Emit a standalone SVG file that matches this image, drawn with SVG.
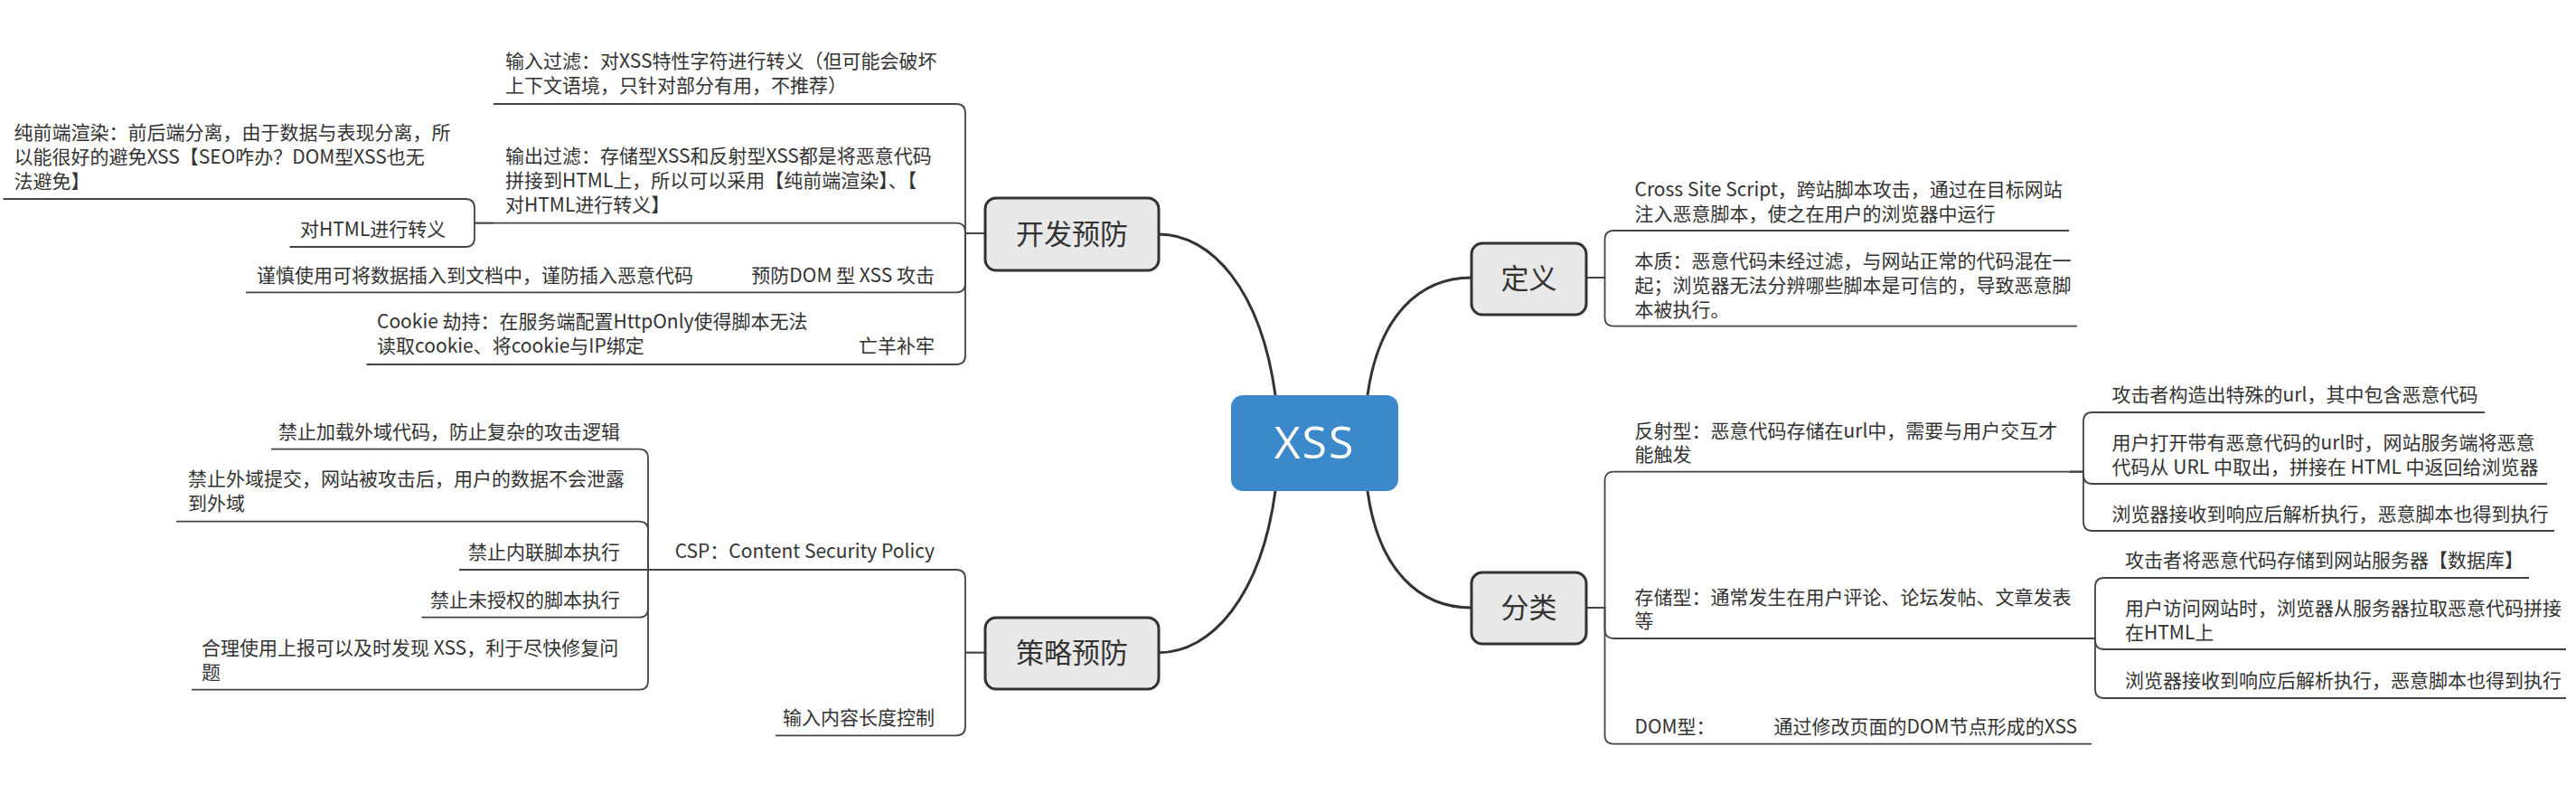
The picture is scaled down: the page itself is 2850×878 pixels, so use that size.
<svg xmlns="http://www.w3.org/2000/svg" width="2850" height="878" viewBox="0 0 2850 878">
<style>
.t{font-family:"Noto Sans CJK SC","Noto Sans",sans-serif;font-size:21px;fill:#333}
.e{text-anchor:end}
.main{fill:none;stroke:#333;stroke-width:3}
.br{fill:none;stroke:#444;stroke-width:1.8}
.box{fill:#e8e8e8;stroke:#333;stroke-width:3}
.bt{font-family:"Noto Sans CJK SC","Noto Sans",sans-serif;font-size:31px;fill:#333;text-anchor:middle}
</style>
<rect width="2850" height="878" fill="#fff"/>
<g id="connectors">
<path class="main" d="M1282,259 C1340,259 1395,320 1411,437"/>
<path class="main" d="M1513,437 C1525,350 1570,307 1628,307"/>
<path class="main" d="M1513,543 C1525,630 1570,672 1628,672"/>
<path class="main" d="M1411,543 C1395,660 1340,721.7 1282,721.7"/>
<!-- 开发预防 -->
<path class="br" d="M1090,258 H1068 V125 Q1068,115 1058,115 H546"/>
<path class="br" d="M1090,258 H1068 V256.7 Q1068,246.7 1058,246.7 H546"/>
<path class="br" d="M1090,258 H1068 V313.3 Q1068,323.3 1058,323.3 H272"/>
<path class="br" d="M1090,258 H1068 V393 Q1068,403 1058,403 H405.5"/>
<path class="br" d="M546,246.7 H525 V230 Q525,220 515,220 H3.5"/>
<path class="br" d="M546,246.7 H525 V263 Q525,273 515,273 H320.6"/>
<!-- 策略预防 -->
<path class="br" d="M1090,721.7 H1068 V640 Q1068,630 1058,630 H717"/>
<path class="br" d="M1090,721.7 H1068 V803.3 Q1068,813.3 1058,813.3 H858"/>
<path class="br" d="M740,630 H717 V506.7 Q717,496.7 707,496.7 H300"/>
<path class="br" d="M740,630 H717 V586.7 Q717,576.7 707,576.7 H195"/>
<path class="br" d="M740,630 H508"/>
<path class="br" d="M740,630 H717 V672.7 Q717,682.7 707,682.7 H466.5"/>
<path class="br" d="M740,630 H717 V752.7 Q717,762.7 707,762.7 H212"/>
<!-- 定义 -->
<path class="br" d="M1755,307 H1775.5 V265 Q1775.5,255 1785.5,255 H2289"/>
<path class="br" d="M1755,307 H1775.5 V350.7 Q1775.5,360.7 1785.5,360.7 H2298"/>
<!-- 分类 -->
<path class="br" d="M1755,672 H1775.5 V531.7 Q1775.5,521.7 1785.5,521.7 H2290"/>
<path class="br" d="M1755,672 H1775.5 V696 Q1775.5,706 1785.5,706 H2298"/>
<path class="br" d="M1755,672 H1775.5 V812.7 Q1775.5,822.7 1785.5,822.7 H2314"/>
<path class="br" d="M2290,521.7 H2305 V466 Q2305,456 2315,456 H2749"/>
<path class="br" d="M2290,521.7 H2305 V525 Q2305,535 2315,535 H2818"/>
<path class="br" d="M2290,521.7 H2305 V577 Q2305,587 2315,587 H2826"/>
<path class="br" d="M2298,706 H2318 V649 Q2318,639 2328,639 H2798"/>
<path class="br" d="M2298,706 H2318 V708 Q2318,718 2328,718 H2839"/>
<path class="br" d="M2298,706 H2318 V762 Q2318,772 2328,772 H2839"/>
</g>
<g id="root">
<rect x="1362" y="437" width="185" height="106" rx="13" fill="#3b88ca"/>
<text x="1454.5" y="507" font-family="'Open Sans','Noto Sans',sans-serif" font-size="50" fill="#fff" text-anchor="middle" letter-spacing="2">XSS</text>
</g>
<g id="kaifa">
<rect class="box" x="1090" y="219" width="192" height="80" rx="12"/>
<text class="bt" x="1186" y="270">开发预防</text>
</g>
<g id="celue">
<rect class="box" x="1090" y="683" width="192" height="79" rx="12"/>
<text class="bt" x="1186" y="733">策略预防</text>
</g>
<g id="dingyi">
<rect class="box" x="1628" y="269" width="127" height="79" rx="12"/>
<text class="bt" x="1691.5" y="319">定义</text>
</g>
<g id="fenlei">
<rect class="box" x="1628" y="633" width="127" height="79" rx="12"/>
<text class="bt" x="1691.5" y="683">分类</text>
</g>
<g id="def1"><text class="t" x="1808.5" y="217">Cross Site Script，跨站脚本攻击，通过在目标网站</text><text class="t" x="1808.5" y="244">注入恶意脚本，使之在用户的浏览器中运行</text></g>
<g id="def2"><text class="t" x="1808.5" y="296">本质：恶意代码未经过滤，与网站正常的代码混在一</text><text class="t" x="1808.5" y="323">起；浏览器无法分辨哪些脚本是可信的，导致恶意脚</text><text class="t" x="1808.5" y="350">本被执行。</text></g>
<g id="fanshe"><text class="t" x="1808.5" y="484">反射型：恶意代码存储在url中，需要与用户交互才</text><text class="t" x="1808.5" y="510">能触发</text></g>
<g id="fanshe1"><text class="t" x="2336.6" y="444">攻击者构造出特殊的url，其中包含恶意代码</text></g>
<g id="fanshe2"><text class="t" x="2336.6" y="497">用户打开带有恶意代码的url时，网站服务端将恶意</text><text class="t" x="2336.6" y="524">代码从 URL 中取出，拼接在 HTML 中返回给浏览器</text></g>
<g id="fanshe3"><text class="t" x="2336.6" y="576">浏览器接收到响应后解析执行，恶意脚本也得到执行</text></g>
<g id="cunchu"><text class="t" x="1808.5" y="668">存储型：通常发生在用户评论、论坛发帖、文章发表</text><text class="t" x="1808.5" y="694">等</text></g>
<g id="cunchu1"><text class="t" x="2351" y="627">攻击者将恶意代码存储到网站服务器【数据库】</text></g>
<g id="cunchu2"><text class="t" x="2351" y="680">用户访问网站时，浏览器从服务器拉取恶意代码拼接</text><text class="t" x="2351" y="707">在HTML上</text></g>
<g id="cunchu3"><text class="t" x="2351" y="760">浏览器接收到响应后解析执行，恶意脚本也得到执行</text></g>
<g id="dom"><text class="t" x="1808.5" y="811">DOM型：</text></g>
<g id="dom1"><text class="t" x="1962.6" y="811">通过修改页面的DOM节点形成的XSS</text></g>
<g id="shuru"><text class="t" x="559" y="75">输入过滤：对XSS特性字符进行转义（但可能会破坏</text><text class="t" x="559" y="102">上下文语境，只针对部分有用，不推荐）</text></g>
<g id="shuchu"><text class="t" x="559" y="180">输出过滤：存储型XSS和反射型XSS都是将恶意代码</text><text class="t" x="559" y="207">拼接到HTML上，所以可以采用【纯前端渲染】、【</text><text class="t" x="559" y="234">对HTML进行转义】</text></g>
<g id="chunqian"><text class="t" x="15.4" y="154">纯前端渲染：前后端分离，由于数据与表现分离，所</text><text class="t" x="15.4" y="181">以能很好的避免XSS【SEO咋办？DOM型XSS也无</text><text class="t" x="15.4" y="208">法避免】</text></g>
<g id="zhuanyi"><text class="t" x="332" y="261">对HTML进行转义</text></g>
<g id="yufangdom"><text class="t e" x="1034" y="312">预防DOM 型 XSS 攻击</text></g>
<g id="jinshen"><text class="t" x="284" y="312">谨慎使用可将数据插入到文档中，谨防插入恶意代码</text></g>
<g id="wangyang"><text class="t e" x="1034" y="390">亡羊补牢</text></g>
<g id="cookie"><text class="t" x="417" y="363">Cookie 劫持：在服务端配置HttpOnly使得脚本无法</text><text class="t" x="417" y="390">读取cookie、将cookie与IP绑定</text></g>
<g id="csp"><text class="t e" x="1034" y="617">CSP：Content Security Policy</text></g>
<g id="csp1"><text class="t e" x="686" y="485">禁止加载外域代码，防止复杂的攻击逻辑</text></g>
<g id="csp2"><text class="t" x="208" y="537">禁止外域提交，网站被攻击后，用户的数据不会泄露</text><text class="t" x="208" y="564">到外域</text></g>
<g id="csp3"><text class="t e" x="686" y="618">禁止内联脚本执行</text></g>
<g id="csp4"><text class="t e" x="686" y="671">禁止未授权的脚本执行</text></g>
<g id="csp5"><text class="t" x="223" y="724">合理使用上报可以及时发现 XSS，利于尽快修复问</text><text class="t" x="223" y="751">题</text></g>
<g id="changdu"><text class="t e" x="1034" y="801">输入内容长度控制</text></g>
</svg>
